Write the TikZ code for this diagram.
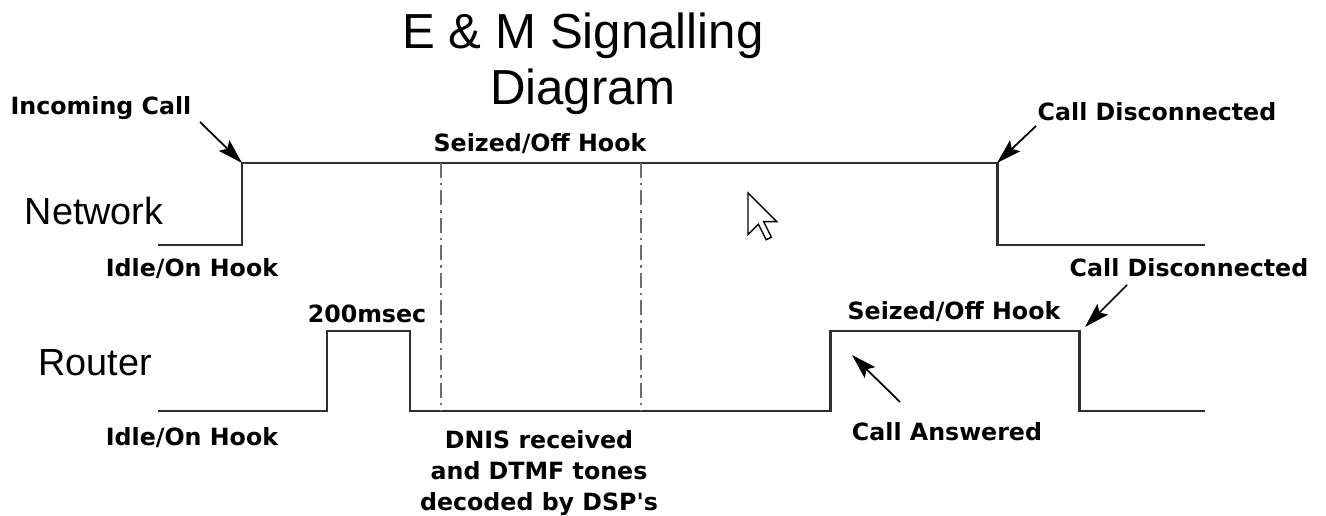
\documentclass[tikz,border=0pt]{standalone}
\usepackage{fontspec}
\setmainfont{Liberation Sans}
\newfontfamily\lblfont{DejaVu Sans}
\usetikzlibrary{arrows.meta,positioning}
\definecolor{emline}{HTML}{2F2F2F}
\definecolor{emguide}{HTML}{6E6E6E}

\begin{document}
\begin{tikzpicture}[
  x=0.02cm, y=-0.02cm,
  title/.style={font=\fontsize{28}{32}\selectfont, inner sep=0pt, align=center},
  side/.style={font=\fontsize{21.5}{26}\selectfont, inner sep=0pt},
  lbl/.style={font=\lblfont\bfseries\fontsize{13.5}{17.6}\selectfont, inner sep=0pt, align=center, anchor=base},
  wave/.style={draw=emline, line width=1.7pt, line join=miter},
  guide/.style={draw=emguide, line width=1.5pt,
    dash pattern=on 0.3cm off 0.1cm on 0.05cm off 0.1cm},
  callout/.style={-{Stealth[length=0.5cm,width=0.3cm,inset=0.09cm]}, line width=1pt, black},
]
  \useasboundingbox (0,0) rectangle (1326,516);

  % Title and signal names
  \node[title] (title) at (583,64) {E \& M Signalling\\Diagram};
  \node[side] (net) at (94,211) {Network};
  \node[side] (rtr) at (95,363) {Router};

  % Signal corners
  \coordinate (netup) at (242,163);
  \coordinate (netdown) at (997,163);
  \coordinate (rtrup) at (830,331);
  \coordinate (rtrdown) at (1079,331);

  % Network line
  \draw[wave] (158,245) -- (242,245) -- (netup) -- (netdown) -- (997,245) -- (1205,245);

  % Router line
  \draw[wave] (158,411) -- (327,411) -- (327,331) -- (410,331) -- (410,411)
    -- (830,411) -- (rtrup) -- (rtrdown) -- (1079,411) -- (1205,411);

  % Digit collection window
  \draw[guide] (441,163) -- (441,411);
  \draw[guide] (641,163) -- (641,411);

  % Labels
  \node[lbl] (incall) at (101,115) {Incoming Call};
  \node[lbl] (netidle) at (192,277) {Idle/On Hook};
  \node[lbl] (netseize) at (540,152) {Seized/Off Hook};
  \node[lbl] (netdisc) at (1157,121) {Call Disconnected};
  \node[lbl] (rtrdisc) at (1189,277) {Call Disconnected};
  \node[lbl] (wink) at (367,323) {200msec};
  \node[lbl] (rtridle) at (192,446) {Idle/On Hook};
  \node[lbl, anchor=center] (dnis) at (539,473) {DNIS received\\and DTMF tones\\decoded by DSP's};
  \node[lbl] (rtrseize) at (954,320) {Seized/Off Hook};
  \node[lbl] (answer) at (947,441) {Call Answered};

  % Callout arrows
  \coordinate (incallT) at (200,122);
  \coordinate (netdiscT) at (1036,126);
  \coordinate (rtrdiscT) at (1127,285);
  \coordinate (rtrdiscH) at (1085,327);
  \coordinate (answerT) at (900,402);
  \coordinate (answerH) at (852,355);
  \draw[callout] (incallT) -- (netup);
  \draw[callout] (netdiscT) -- (netdown);
  \draw[callout] (rtrdiscT) -- (rtrdiscH);
  \draw[callout] (answerT) -- (answerH);

  % Mouse pointer
  \draw[black, line width=0.8pt, fill=white, line join=miter, shift={(748,193)}, scale=2.6]
    (0,0) -- (0,16) -- (4,12) -- (7,18) -- (9,17) -- (6,11) -- (11,11) -- cycle;
\end{tikzpicture}
\end{document}
